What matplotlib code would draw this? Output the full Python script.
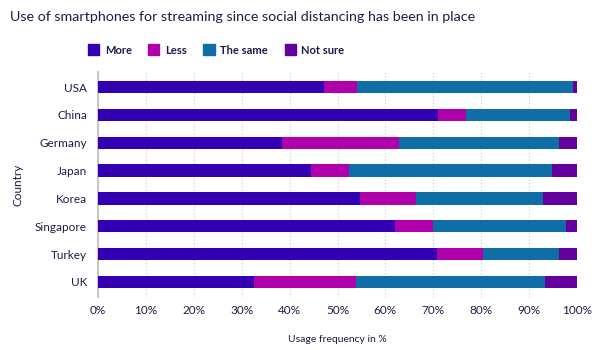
import matplotlib
matplotlib.use("Agg")
import matplotlib.pyplot as plt
import numpy as np
from matplotlib.patches import Patch

# Datos (porcentajes)
countries = ["USA", "China", "Germany", "Japan", "Korea", "Singapore", "Turkey", "UK"]
more = [47.2, 71.0, 38.4, 44.5, 54.6, 61.9, 70.7, 32.6]
less = [6.9, 5.8, 24.5, 7.9, 11.8, 8.1, 9.7, 21.3]
same = [45.0, 21.7, 33.4, 42.3, 26.6, 27.8, 15.9, 39.4]
not_sure = [0.9, 1.5, 3.7, 5.3, 7.0, 2.2, 3.7, 6.7]

series = ["More", "Less", "The same", "Not sure"]
colors = ["#3300b4", "#b000ac", "#106ea6", "#64009e"]

plt.rcParams['font.family'] = ['Lato', 'DejaVu Sans']
txt = "#1c1c48"

fig = plt.figure(figsize=(6.01, 3.5), dpi=100)
ax = fig.add_axes([98/601, 1-297/350, 479/601, 225/350])

y = np.arange(len(countries))
left = np.zeros(len(countries))
for vals, c in zip([more, less, same, not_sure], colors):
    ax.barh(y, vals, left=left, height=0.44, color=c, zorder=3)
    left = left + np.array(vals)

ax.set_xlim(0, 100)
ax.set_ylim(7.54, -0.54)
ax.set_yticks(y)
ax.set_yticklabels(countries, fontsize=8.5, color=txt)
ax.set_xticks(np.arange(0, 101, 10))
ax.set_xticklabels([f"{v}%" for v in range(0, 101, 10)], fontsize=8.5, color=txt)
ax.tick_params(length=0, pad=8)
ax.tick_params(axis='x', pad=6)
ax.grid(axis='x', color='#c8c8c8', linestyle=(0, (1, 2)), linewidth=0.8, zorder=0)
for s in ['top', 'right', 'bottom']:
    ax.spines[s].set_visible(False)
ax.spines['left'].set_color('#c8c8c8')
ax.spines['left'].set_linewidth(1.5)

fig.text(337/601, 1-339/350, "Usage frequency in %", ha='center', va='center', fontsize=7.5, color=txt)
fig.text(18/601, 1-185/350, "Country", rotation=90, ha='center', va='center', fontsize=8.5, color=txt)

fig.text(10/601, 1-17/350, "Use of smartphones for streaming since social distancing has been in place",
         fontsize=10.3, color=txt, ha='left', va='center')

handles = [Patch(facecolor=c, edgecolor=c) for c in colors]
leg = fig.legend(handles, series, loc='center left', bbox_to_anchor=(78/601, 1-50/350), ncol=4,
                 frameon=False, prop={'weight': 'bold', 'size': 8}, handlelength=1.0, handleheight=1.1,
                 columnspacing=1.5, handletextpad=0.5)
for t in leg.get_texts():
    t.set_color(txt)

fig.savefig("out.png", dpi=100)
